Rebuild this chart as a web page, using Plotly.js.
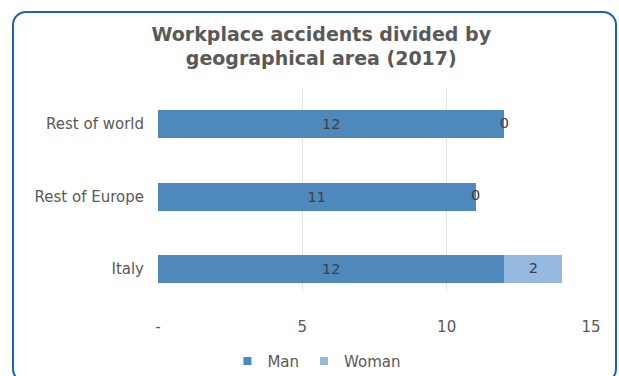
<!DOCTYPE html>
<html>
<head>
<meta charset="utf-8">
<script src="https://cdn.plot.ly/plotly-3.0.1.min.js"></script>
<style>
  html, body { margin: 0; padding: 0; background: #fff; }
  #wrap { position: relative; width: 619px; height: 376px; overflow: hidden; }
  #chart { position: absolute; left: 0; top: 0; width: 619px; height: 376px; }
  #frame { position: absolute; left: 12px; top: 11px; width: 601px; height: 368px;
           border: 2.5px solid #1565C0; border-radius: 14px; pointer-events: none; }
</style>
</head>
<body>
<div id="wrap">
  <div id="chart"></div>
  <div id="frame"></div>
</div>
<script>
const categories = ['Italy', 'Rest of Europe', 'Rest of world'];
const manValues = [12, 11, 12];
const womanValues = [2, 0, 0];
const seriesNames = ['Man', 'Woman'];
const seriesColors = ['#4F88BB', '#95B9E0'];
const xTickVals = [0, 5, 10, 15];
const xTickText = ['-', '5', '10', '15'];

const font = 'DejaVu Sans, Verdana, sans-serif';
const grey = '#595959';
const labelColor = '#404040';

const traces = [
  {
    type: 'bar', orientation: 'h', name: seriesNames[0], showlegend: false,
    x: manValues, y: categories,
    marker: { color: seriesColors[0] },
    text: manValues.map(String), textposition: 'inside', insidetextanchor: 'middle',
    constraintext: 'none',
    textfont: { family: font, size: 14.5, color: labelColor },
    hoverinfo: 'x+name'
  },
  {
    type: 'bar', orientation: 'h', name: seriesNames[1], showlegend: false,
    x: womanValues, y: categories,
    marker: { color: seriesColors[1] },
    textposition: 'none',
    hoverinfo: 'x+name'
  },
  {
    type: 'scatter', mode: 'text', showlegend: false, hoverinfo: 'skip',
    x: manValues.map((m, i) => m + womanValues[i] / 2), y: categories,
    text: womanValues.map(String), textposition: 'middle center',
    textfont: { family: font, size: 14.5, color: labelColor },
    cliponaxis: false
  },
  // legend entries with small square keys
  ...seriesNames.map((n, i) => ({
    type: 'scatter', mode: 'markers', name: n, x: [null], y: [null],
    marker: { symbol: 'square', size: 8, color: seriesColors[i] },
    hoverinfo: 'skip'
  }))
];

const layout = {
  width: 619, height: 376,
  margin: { l: 158, r: 28, t: 88, b: 85, pad: 0 },
  paper_bgcolor: '#ffffff', plot_bgcolor: '#ffffff',
  barmode: 'stack', bargap: 0.614,
  showlegend: true,
  title: {
    text: 'Workplace accidents divided by<br>geographical area (2017)',
    font: { family: font, size: 19, color: grey, weight: 'bold' },
    xref: 'container', x: 0.519, xanchor: 'center',
    yref: 'container', y: 0.892, yanchor: 'middle'
  },
  xaxis: {
    range: [0, 15], tickvals: xTickVals, ticktext: xTickText,
    showgrid: true, gridcolor: '#E4E4E4', gridwidth: 1,
    zeroline: false, showline: false, ticks: '',
    ticklabelstandoff: 25,
    tickfont: { family: font, size: 15, color: grey },
    fixedrange: true
  },
  yaxis: {
    type: 'category', categoryorder: 'array', categoryarray: categories,
    range: [-0.303, 2.497],
    showgrid: false, zeroline: false, showline: false, ticks: '',
    ticklabelstandoff: 13,
    tickfont: { family: font, size: 15, color: grey },
    fixedrange: true
  },
  legend: {
    orientation: 'h', xref: 'container', yref: 'container',
    x: 0.512, xanchor: 'center', y: 0.039, yanchor: 'middle',
    font: { family: font, size: 15, color: grey },
    itemclick: false, traceorder: 'normal', tracegroupgap: 0
  }
};

Plotly.newPlot('chart', traces, layout, { displayModeBar: false, staticPlot: true });
</script>
</body>
</html>
